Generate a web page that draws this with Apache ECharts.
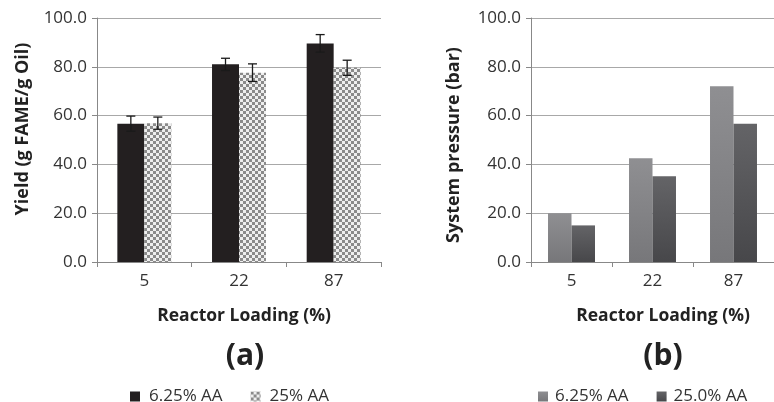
<!DOCTYPE html>
<html>
<head>
<meta charset="utf-8">
<script src="https://cdn.jsdelivr.net/npm/echarts@6/dist/echarts.min.js"></script>
<style>
  html, body { margin: 0; padding: 0; background: #fff; }
  #chart { width: 774px; height: 402px; }
</style>
</head>
<body>
<div id="chart"></div>
<script>
// data
const categories = ['5', '22', '87'];
const yieldLow = [56.7, 81.0, 89.6];      // 6.25% AA
const yieldLowErr = [3.1, 2.5, 3.6];
const yieldHigh = [56.9, 77.6, 79.6];     // 25% AA
const yieldHighErr = [2.5, 3.6, 3.1];
const pressureLow = [20.0, 42.5, 72.0];   // 6.25% AA
const pressureHigh = [15.0, 35.1, 56.7];  // 25.0% AA

const FONT = 'Open Sans';
const GAP = 0.43;

// checker pattern for the 25% AA bars
const pat = document.createElement('canvas');
pat.width = 6; pat.height = 6;
const pctx = pat.getContext('2d');
pctx.fillStyle = '#eeeeee';
pctx.fillRect(0, 0, 6, 6);
pctx.fillStyle = '#8a8a8a';
pctx.fillRect(0, 0, 3, 3);
pctx.fillRect(3, 3, 3, 3);

const lightGrad = new echarts.graphic.LinearGradient(0, 0, 0, 1, [
  { offset: 0, color: '#8f8f92' }, { offset: 1, color: '#77777a' }
]);
const darkGrad = new echarts.graphic.LinearGradient(0, 0, 0, 1, [
  { offset: 0, color: '#646467' }, { offset: 1, color: '#47474a' }
]);

function errData(vals, errs, side) {
  return vals.map((v, i) => [i, v, errs[i], side]);
}

function renderError(params, api) {
  const i = api.value(0), v = api.value(1), e = api.value(2), side = api.value(3);
  const band = api.size([1, 0])[0];
  const bw = band * (1 - GAP) / 2;
  const top = api.coord([i, v + e]);
  const bot = api.coord([i, v - e]);
  const x = top[0] + side * bw / 2;
  const cap = 4.5;
  const st = { stroke: '#1a1a1a', lineWidth: 1.3 };
  return {
    type: 'group',
    children: [
      { type: 'line', shape: { x1: x, y1: top[1], x2: x, y2: bot[1] }, style: st },
      { type: 'line', shape: { x1: x - cap, y1: top[1], x2: x + cap, y2: top[1] }, style: st },
      { type: 'line', shape: { x1: x - cap, y1: bot[1], x2: x + cap, y2: bot[1] }, style: st }
    ]
  };
}

const axisText = { color: '#333', fontFamily: FONT, fontSize: 17 };

function xAxis(gi) {
  return {
    type: 'category', gridIndex: gi, data: categories,
    axisLine: { lineStyle: { color: '#888', width: 1 } },
    axisTick: { show: true, length: 5, lineStyle: { color: '#888' } },
    axisLabel: Object.assign({ margin: 11 }, axisText)
  };
}
function yAxis(gi) {
  return {
    type: 'value', gridIndex: gi, min: 0, max: 100, interval: 20,
    axisLine: { show: true, lineStyle: { color: '#888', width: 1 } },
    axisTick: { show: true, length: 5, lineStyle: { color: '#888' } },
    splitLine: { lineStyle: { color: '#a8a8a8', width: 1 } },
    axisLabel: Object.assign({ margin: 10, formatter: v => v.toFixed(1) }, axisText)
  };
}

function title(x, y, text, size, rot) {
  return {
    type: 'text', x: x, y: y, rotation: rot || 0,
    style: {
      text: text, fill: '#222', font: 'bold ' + size + 'px "' + FONT + '"',
      textAlign: 'center', textVerticalAlign: 'middle'
    }
  };
}

const chart = echarts.init(document.getElementById('chart'), null, { renderer: 'canvas' });

chart.setOption({
  animation: false,
  grid: [
    { left: 97, top: 18, width: 284, height: 244 },
    { left: 531, top: 18, width: 253, height: 244 }
  ],
  xAxis: [xAxis(0), xAxis(1)],
  yAxis: [yAxis(0), yAxis(1)],
  legend: [
    {
      left: 125, top: 383, itemWidth: 10, itemHeight: 10, itemGap: 28, icon: 'rect',
      data: ['6.25% AA', '25% AA'],
      textStyle: { color: '#333', fontFamily: FONT, fontSize: 17, padding: [0, 0, 0, 4] }
    },
    {
      left: 533, top: 383, itemWidth: 10, itemHeight: 10, itemGap: 28, icon: 'rect',
      data: ['6.25% AA (b)', '25.0% AA'],
      formatter: n => n.replace(' (b)', ''),
      textStyle: { color: '#333', fontFamily: FONT, fontSize: 17, padding: [0, 0, 0, 2] }
    }
  ],
  graphic: [
    title(23, 129, 'Yield (g FAME/g Oil)', 18, Math.PI / 2),
    title(454, 145, 'System pressure (bar)', 18, Math.PI / 2),
    title(244, 316, 'Reactor Loading (%)', 17.5, 0),
    title(663, 316, 'Reactor Loading (%)', 17.5, 0),
    title(245, 356, '(a)', 30, 0),
    title(663, 356, '(b)', 30, 0)
  ],
  series: [
    {
      name: '6.25% AA', type: 'bar', xAxisIndex: 0, yAxisIndex: 0,
      data: yieldLow, barGap: '0%', barCategoryGap: '43%',
      itemStyle: { color: '#231f20' }
    },
    {
      name: '25% AA', type: 'bar', xAxisIndex: 0, yAxisIndex: 0,
      data: yieldHigh, barGap: '0%', barCategoryGap: '43%',
      itemStyle: { color: { image: pat, repeat: 'repeat' } }
    },
    {
      type: 'custom', xAxisIndex: 0, yAxisIndex: 0, z: 5,
      renderItem: renderError, data: errData(yieldLow, yieldLowErr, -1)
    },
    {
      type: 'custom', xAxisIndex: 0, yAxisIndex: 0, z: 5,
      renderItem: renderError, data: errData(yieldHigh, yieldHighErr, 1)
    },
    {
      name: '6.25% AA (b)', type: 'bar', xAxisIndex: 1, yAxisIndex: 1,
      data: pressureLow, barGap: '0%', barCategoryGap: '42%',
      itemStyle: { color: lightGrad }
    },
    {
      name: '25.0% AA', type: 'bar', xAxisIndex: 1, yAxisIndex: 1,
      data: pressureHigh, barGap: '0%', barCategoryGap: '42%',
      itemStyle: { color: darkGrad }
    }
  ]
});
</script>
</body>
</html>
